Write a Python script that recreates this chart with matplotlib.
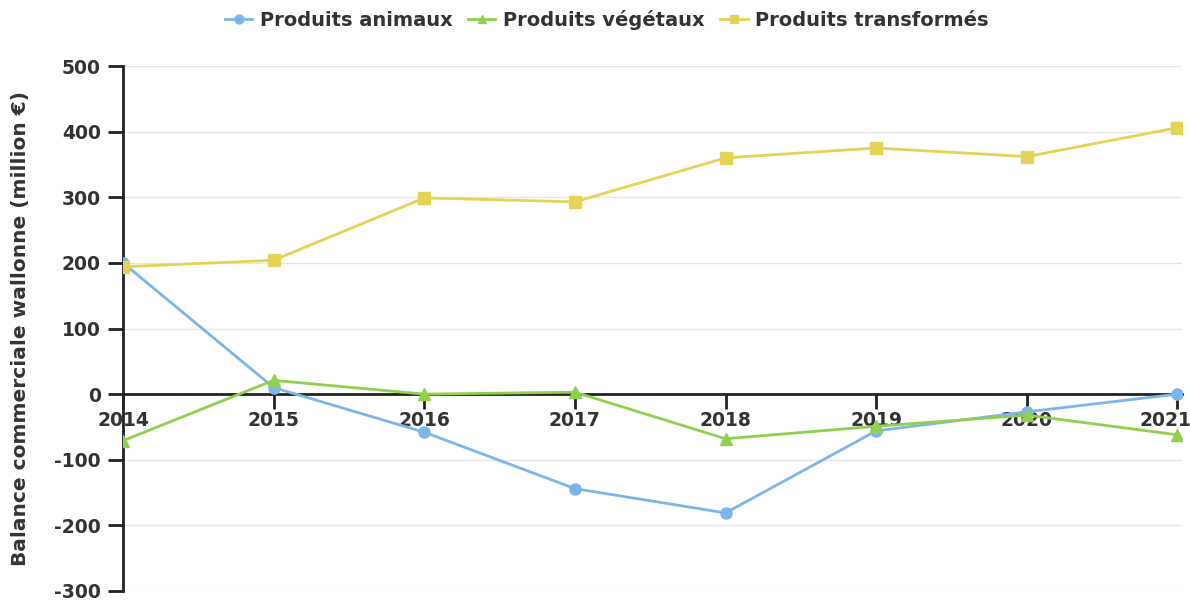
import matplotlib
matplotlib.use("Agg")
import matplotlib.pyplot as plt
from matplotlib.transforms import ScaledTranslation

years = [2014, 2015, 2016, 2017, 2018, 2019, 2020, 2021]
animaux = [200, 10, -58, -144, -181, -56, -27, 0]
vegetaux = [-71, 21, 0, 3, -68, -49, -32, -62]
transformes = [194, 204, 299, 293, 360, 375, 362, 406]
yticks = [-300, -200, -100, 0, 100, 200, 300, 400, 500]

plt.rcParams['font.family'] = ['DejaVu Sans']
fig = plt.figure(figsize=(11.9, 6.01), dpi=100)
ax = fig.add_axes([123/1190, (601-591)/601, (1182-123)/1190, (591-66)/601])

ax.spines['top'].set_visible(False)
ax.spines['right'].set_visible(False)
ax.spines['bottom'].set_position(('data', 0))
ax.spines['bottom'].set_linewidth(2)
ax.spines['left'].set_linewidth(2)
ax.spines['bottom'].set_color('#222222')
ax.spines['left'].set_color('#222222')

ax.plot(years, animaux, color='#7cb5ec', lw=2, marker='o', markersize=8, label='Produits animaux', zorder=3)
ax.plot(years, vegetaux, color='#8fd14f', lw=2, marker='^', markersize=8, label='Produits végétaux', zorder=3)
ax.plot(years, transformes, color='#e4d354', lw=2, marker='s', markersize=8, label='Produits transformés', zorder=3)

ax.set_xlim(2014, 2021.03)
ax.set_ylim(-300, 500)
ax.set_yticks(yticks)
ax.set_yticklabels([str(v) for v in yticks], fontweight='bold', fontsize=13.5, color='#333333')
ax.set_xticks(years)
ax.set_xticklabels([str(y) for y in years], fontweight='bold', fontsize=13.5, color='#333333')

ax.tick_params(axis='both', direction='out', length=11, width=2, color='#222222')
ax.tick_params(axis='x', pad=1)
ax.tick_params(axis='y', pad=5)

xl = ax.get_xticklabels()
xl[-1].set_transform(xl[-1].get_transform() + ScaledTranslation(-12/100, 0, fig.dpi_scale_trans))

for v in yticks:
    if v != 0:
        ax.axhline(v, color='#e6e6e6', lw=1, zorder=0)

ax.set_ylabel('Balance commerciale wallonne (million €)', fontweight='bold', fontsize=14.5, color='#333333')
ax.yaxis.set_label_coords(-93/1059, 0.5)

leg = fig.legend(loc='upper center', bbox_to_anchor=(0.51, 1.012), ncol=3, frameon=False,
                 prop={'weight': 'bold', 'size': 14}, handlelength=1.4, columnspacing=0.8,
                 handletextpad=0.4, markerscale=0.8)
for t in leg.get_texts():
    t.set_color('#333333')

fig.savefig('out.png', dpi=100)
